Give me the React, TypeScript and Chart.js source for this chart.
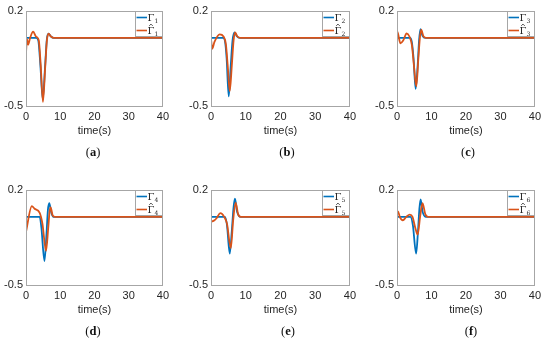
import React, { useEffect, useRef } from "react";
import { Chart, registerables } from "chart.js";
Chart.register(...registerables);

// ---- data ----
const xTicks = [0, 10, 20, 30, 40];
const yTicks = [-0.5, 0.2];
const captionLetters = ["a", "b", "c", "d", "e", "f"];

const gamma1T = [0, 3.0, 3.6, 4.2, 4.9, 5.6, 6.1, 6.6, 7.3, 8.0, 40];
const gamma1 = [0, 0, -0.02, -0.2, -0.45, -0.2, -0.01, 0.03, 0.01, 0, 0];
const gammaHat1T = [0, 0.3, 0.6, 1.2, 2.1, 2.9, 3.4, 3.8, 4.3, 4.95, 5.6, 6.1, 6.6, 7.3, 8.2, 40];
const gammaHat1 = [-0.11, -0.01, -0.05, 0.0, 0.045, 0.01, 0.0, -0.03, -0.2, -0.47, -0.22, -0.02, 0.03, 0.01, 0, 0];

const gamma2T = [0, 3.5, 4.0, 4.5, 5.1, 5.7, 6.2, 6.8, 7.5, 8.2, 40];
const gamma2 = [0, 0, -0.02, -0.15, -0.43, -0.2, -0.02, 0.04, 0.01, 0, 0];
const gammaHat2T = [0, 0.35, 1.0, 2.5, 3.6, 4.3, 4.8, 5.4, 6.0, 6.5, 6.95, 7.6, 8.5, 40];
const gammaHat2 = [-0.01, -0.08, -0.03, 0.025, 0.01, -0.05, -0.2, -0.39, -0.2, -0.02, 0.04, 0.01, 0, 0];

const gamma3T = [0, 3.8, 4.3, 4.8, 5.4, 6.0, 6.4, 6.8, 7.4, 8.2, 40];
const gamma3 = [0, 0, -0.03, -0.15, -0.375, -0.2, -0.02, 0.063, 0.015, 0, 0];
const gammaHat3T = [0, 0.3, 1.0, 1.8, 2.8, 3.6, 4.3, 4.9, 5.6, 6.2, 6.6, 7.0, 7.7, 8.5, 40];
const gammaHat3 = [0.05, 0.03, -0.04, -0.02, 0.032, 0.01, -0.05, -0.2, -0.356, -0.15, -0.01, 0.06, 0.01, 0, 0];

const gamma4T = [0, 4.0, 4.5, 5.4, 6.0, 6.4, 6.8, 7.4, 8.0, 40];
const gamma4 = [0, 0, -0.08, -0.324, -0.12, 0.05, 0.1, 0.03, 0, 0];
const gammaHat4T = [0, 1.7, 2.5, 4.0, 4.8, 5.85, 6.5, 6.9, 7.2, 7.8, 8.5, 40];
const gammaHat4 = [-0.11, 0.079, 0.06, 0.03, -0.05, -0.25, -0.08, 0.04, 0.07, 0.01, 0, 0];

const gamma5T = [0, 4.0, 4.6, 5.4, 6.0, 6.5, 6.9, 7.5, 8.5, 40];
const gamma5 = [0, 0, -0.06, -0.27, -0.1, 0.07, 0.133, 0.04, 0, 0];
const gammaHat5T = [0, 1.0, 1.6, 2.7, 3.8, 4.6, 5.7, 6.4, 7.1, 7.8, 8.6, 40];
const gammaHat5 = [-0.037, -0.025, -0.01, 0.027, 0.0, -0.05, -0.23, -0.02, 0.105, 0.02, 0, 0];

const gamma6T = [0, 3.9, 4.6, 5.55, 6.1, 6.5, 6.85, 7.4, 8.3, 40];
const gamma6 = [0, 0, -0.06, -0.27, -0.1, 0.06, 0.128, 0.04, 0, 0];
const gammaHat6T = [0, 0.3, 0.8, 1.7, 2.7, 3.7, 4.5, 5.3, 6.0, 6.7, 7.4, 8.2, 9.0, 40];
const gammaHat6 = [0.03, 0.04, 0.0, -0.025, 0.0, 0.016, 0.0, -0.08, -0.13, 0.0, 0.1, 0.02, 0, 0];

const trueTimes = [gamma1T, gamma2T, gamma3T, gamma4T, gamma5T, gamma6T];
const trueValues = [gamma1, gamma2, gamma3, gamma4, gamma5, gamma6];
const estTimes = [gammaHat1T, gammaHat2T, gammaHat3T, gammaHat4T, gammaHat5T, gammaHat6T];
const estValues = [gammaHat1, gammaHat2, gammaHat3, gammaHat4, gammaHat5, gammaHat6];

// ---- layout/style ----
const BLUE = "#0072BD";
const ORANGE = "#D95319";
const TEXT = "#262626";
const BOX = "#a6a6a6";
const colLeft = [26, 211, 397];
const colWidth = [143, 145, 144];
const rowTop = [9, 188];
const plotH = 97;
const captionCenter = [93, 287, 468, 93, 288, 471];
const PAD_TOP = 8;
const PAD_RIGHT = 4;
const Y_W = 26;
const X_H = 58;

const boxPlugin = {
  id: "boxAndLegend",
  afterDraw(chart: any) {
    const { ctx, chartArea } = chart;
    const { left, top, right, bottom } = chartArea;
    ctx.save();
    ctx.strokeStyle = BOX;
    ctx.lineWidth = 1;
    ctx.strokeRect(Math.round(left) + 0.5, Math.round(top) + 0.5, Math.round(right - left) - 1, Math.round(bottom - top));
    // legend
    const idx = chart.options.plugins.panelInfo.index;
    const lw = 28;
    const lh = 26;
    const bx = Math.round(right) - lw;
    const by = Math.round(top);
    ctx.fillStyle = "#ffffff";
    ctx.fillRect(bx, by, lw, lh);
    ctx.strokeStyle = BOX;
    ctx.strokeRect(bx + 0.5, by + 0.5, lw - 1, lh - 1);
    const rows = [
      { color: BLUE, hat: false, y: by + 6.5 },
      { color: ORANGE, hat: true, y: by + 19.5 },
    ];
    rows.forEach((r) => {
      ctx.strokeStyle = r.color;
      ctx.lineWidth = 1.6;
      ctx.beginPath();
      ctx.moveTo(bx + 1.5, r.y);
      ctx.lineTo(bx + 12, r.y);
      ctx.stroke();
      ctx.fillStyle = TEXT;
      ctx.textBaseline = "alphabetic";
      ctx.textAlign = "left";
      ctx.font = "10px 'DejaVu Serif'";
      const gx = bx + 12.5;
      ctx.fillText("\u0393", gx, r.y + 3.5);
      const gw = ctx.measureText("\u0393").width;
      if (r.hat) {
        ctx.strokeStyle = TEXT;
        ctx.lineWidth = 0.8;
        ctx.beginPath();
        ctx.moveTo(gx + gw / 2 - 1.8, r.y - 4.6);
        ctx.lineTo(gx + gw / 2, r.y - 6.4);
        ctx.lineTo(gx + gw / 2 + 1.8, r.y - 4.6);
        ctx.stroke();
      }
      ctx.font = "6px 'DejaVu Serif'";
      ctx.fillText(String(idx + 1), gx + gw, r.y + 5);
    });
    // caption
    const cx = captionCenter[idx] - chart.canvas.offsetLeft;
    const cy = Math.round(bottom) + 47;
    ctx.fillStyle = "#111";
    ctx.textBaseline = "middle";
    const parts = [
      { t: "(", f: "12.5px 'Liberation Serif'" },
      { t: captionLetters[idx], f: "bold 12.5px 'Liberation Serif'" },
      { t: ")", f: "12.5px 'Liberation Serif'" },
    ];
    let total = 0;
    parts.forEach((p) => {
      ctx.font = p.f;
      total += ctx.measureText(p.t).width;
    });
    let x = cx - total / 2;
    parts.forEach((p) => {
      ctx.font = p.f;
      ctx.fillText(p.t, x, cy);
      x += ctx.measureText(p.t).width;
    });
    ctx.restore();
  },
};

function Panel({ index }: { index: number }) {
  const ref = useRef<HTMLCanvasElement | null>(null);
  const col = index % 3;
  const row = Math.floor(index / 3);
  const canvasLeft = colLeft[col] - Y_W;
  const canvasTop = rowTop[row] - PAD_TOP;
  const width = colWidth[col] + Y_W + PAD_RIGHT;
  const height = plotH + PAD_TOP + X_H;

  useEffect(() => {
    if (!ref.current) return;
    const mk = (ts: number[], vs: number[]) => ts.map((t, i) => ({ x: t, y: vs[i] }));
    const font = { family: "'Liberation Sans', Arial, sans-serif", size: 11 };
    const chart = new Chart(ref.current, {
      type: "line",
      data: {
        datasets: [
          {
            label: "true",
            data: mk(trueTimes[index], trueValues[index]),
            borderColor: BLUE,
            borderWidth: 1.8,
            pointRadius: 0,
            cubicInterpolationMode: "monotone",
            fill: false,
            order: 1,
          },
          {
            label: "est",
            data: mk(estTimes[index], estValues[index]),
            borderColor: ORANGE,
            borderWidth: 1.8,
            pointRadius: 0,
            cubicInterpolationMode: "monotone",
            fill: false,
            order: 0,
          },
        ],
      },
      options: {
        animation: false,
        responsive: false,
        events: [],
        layout: { padding: { top: PAD_TOP, right: PAD_RIGHT, left: 0, bottom: 0 } },
        plugins: {
          legend: { display: false },
          tooltip: { enabled: false },
          panelInfo: { index },
        } as any,
        scales: {
          x: {
            type: "linear",
            min: 0,
            max: 40,
            afterBuildTicks: (s: any) => {
              s.ticks = xTicks.map((v) => ({ value: v }));
            },
            afterFit: (s: any) => {
              s.height = X_H;
            },
            grid: { display: false, drawTicks: false },
            border: { display: false },
            ticks: {
              padding: 4,
              font,
              color: TEXT,
              maxRotation: 0,
              autoSkip: false,
              callback: (v: any) => String(v),
            },
            title: {
              display: true,
              text: "time(s)",
              font,
              color: TEXT,
              padding: { top: 0, bottom: X_H - 25 - 6.6 },
            },
          },
          y: {
            type: "linear",
            min: -0.5,
            max: 0.2,
            afterBuildTicks: (s: any) => {
              s.ticks = yTicks.map((v) => ({ value: v }));
            },
            afterFit: (s: any) => {
              s.width = Y_W;
            },
            grid: { display: false, drawTicks: false },
            border: { display: false },
            ticks: {
              padding: 3,
              font,
              color: TEXT,
              autoSkip: false,
              callback: (v: any) => String(v),
            },
          },
        },
      },
      plugins: [boxPlugin],
    } as any);
    return () => chart.destroy();
  }, [index]);

  return (
    <canvas
      ref={ref}
      width={width}
      height={height}
      style={{ position: "absolute", left: canvasLeft, top: canvasTop, width, height }}
    />
  );
}

export default function App() {
  return (
    <div
      style={{
        position: "fixed",
        left: 0,
        top: 0,
        width: 550,
        height: 339,
        overflow: "hidden",
        background: "#fff",
      }}
    >
      {[0, 1, 2, 3, 4, 5].map((i) => (
        <Panel key={i} index={i} />
      ))}
    </div>
  );
}
